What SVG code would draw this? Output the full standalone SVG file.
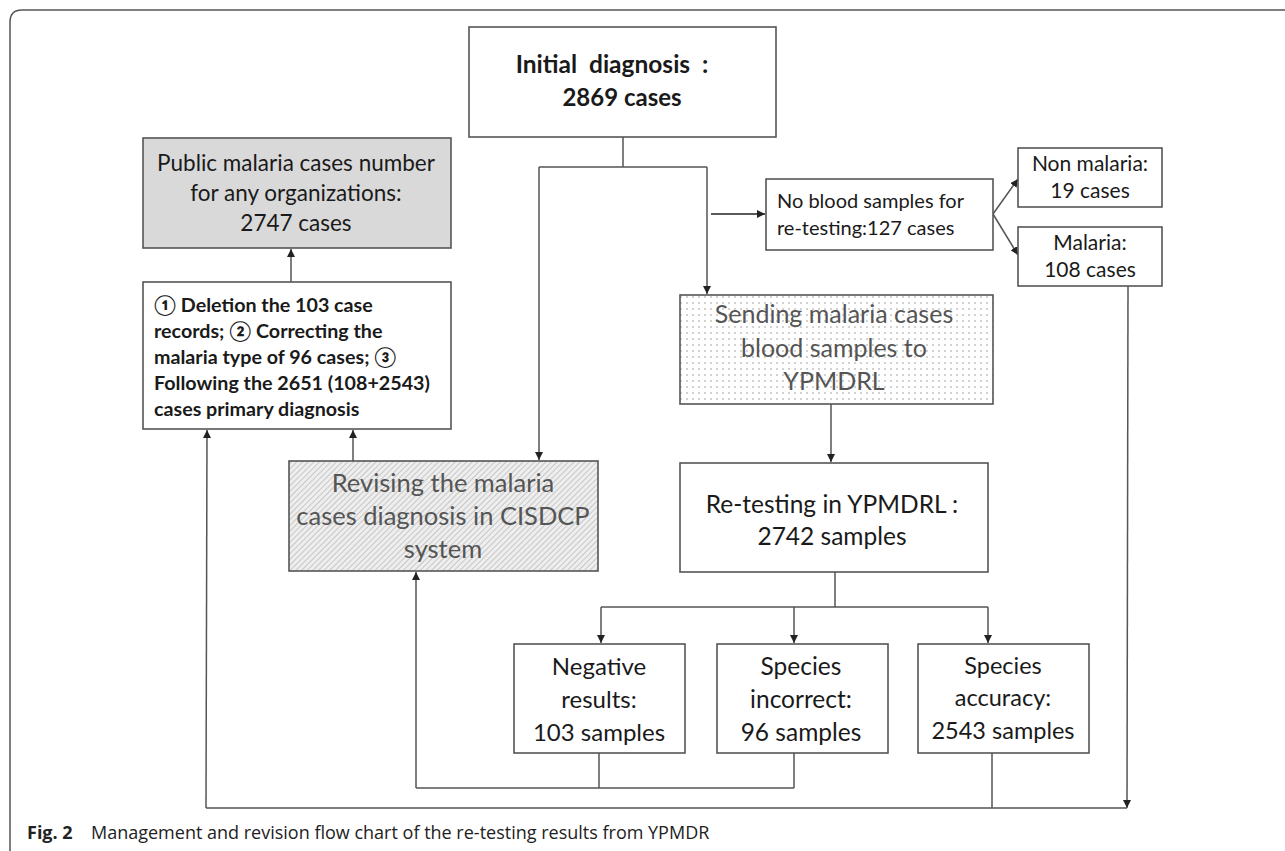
<svg xmlns="http://www.w3.org/2000/svg" width="1285" height="851" viewBox="0 0 1285 851">
<defs>
<style>
.box{stroke:#555;stroke-width:1.6;fill:#fff}
.t{font-family:Lato,"Liberation Sans",sans-serif;fill:#1a1a1a;text-anchor:middle}
.g{fill:#555}
.b{font-weight:bold}
.c{fill:none;stroke:#555;stroke-width:1.5}
</style>
<marker id="ah" viewBox="0 0 10 10" refX="10" refY="5" markerWidth="8" markerHeight="8" markerUnits="userSpaceOnUse" orient="auto"><path d="M0,0 L10,5 L0,10 z" fill="#222"/></marker>
<pattern id="dots" width="6" height="6" patternUnits="userSpaceOnUse"><rect width="6" height="6" fill="#fff"/><circle cx="3" cy="3" r="0.8" fill="#999"/></pattern>
<pattern id="hatch" width="4" height="4" patternUnits="userSpaceOnUse" patternTransform="rotate(45)"><rect width="4" height="4" fill="#eeeeee"/><line x1="0" y1="0" x2="0" y2="4" stroke="#a0a0a0" stroke-width="1"/></pattern>
</defs>
<rect width="1285" height="851" fill="#fff"/>
<path d="M10,851 L10,22 Q10,10 22,10 L1285,10" fill="none" stroke="#555" stroke-width="1.5"/>

<g id="connectors">
<path class="c" d="M623,137 L623,167 M539,167 L707,167"/>
<path class="c" d="M539,167 L539,460" marker-end="url(#ah)"/>
<path class="c" d="M707,167 L707,294" marker-end="url(#ah)"/>
<path class="c" d="M711,214 L765,214" stroke-width="2.4" style="stroke:#222" marker-end="url(#ah)"/>
<path class="c" d="M993,214 L1018,179" marker-end="url(#ah)"/>
<path class="c" d="M993,214 L1018,255" marker-end="url(#ah)"/>
<path class="c" d="M1128,286 L1127,808" marker-end="url(#ah)"/>
<path class="c" d="M831,404 L831,462" marker-end="url(#ah)"/>
<path class="c" d="M835,572 L835,607 M601,607 L988,607"/>
<path class="c" d="M601,607 L601,643" marker-end="url(#ah)"/>
<path class="c" d="M794,607 L794,643" marker-end="url(#ah)"/>
<path class="c" d="M988,607 L988,643" marker-end="url(#ah)"/>
<path class="c" d="M599,753 L599,788 M794,753 L794,788 M416,788 L794,788"/>
<path class="c" d="M416,788 L416,572" marker-end="url(#ah)"/>
<path class="c" d="M992,753 L992,808 M206,808 L1127,808"/>
<path class="c" d="M206,808 L207,430" marker-end="url(#ah)"/>
<path class="c" d="M353,461 L353,430" marker-end="url(#ah)"/>
<path class="c" d="M291,282 L291,249" marker-end="url(#ah)"/>
</g>

<g id="initial">
<rect class="box" x="469" y="27" width="307" height="110"/>
<text class="t b" x="612" y="73" font-size="24.5" xml:space="preserve">Initial  diagnosis  :</text>
<text class="t b" x="622" y="106" font-size="24">2869 cases</text>
</g>

<g id="public">
<rect class="box" x="143" y="138" width="308" height="110" style="fill:#d9d9d9"/>
<text class="t" x="296" y="171" font-size="22.5">Public malaria cases number</text>
<text class="t" x="296" y="201" font-size="22.5">for any organizations:</text>
<text class="t" x="296" y="231" font-size="22.5">2747 cases</text>
</g>

<g id="deletion">
<rect class="box" x="143" y="282" width="308" height="147"/>
<text class="t b" x="154" y="312" font-size="19.7" style="text-anchor:start">① Deletion the 103 case</text>
<text class="t b" x="154" y="338" font-size="19.7" style="text-anchor:start">records; ② Correcting the</text>
<text class="t b" x="154" y="364" font-size="19.7" style="text-anchor:start">malaria type of 96 cases; ③</text>
<text class="t b" x="154" y="390" font-size="19.7" style="text-anchor:start">Following the 2651 (108+2543)</text>
<text class="t b" x="154" y="416" font-size="19.7" style="text-anchor:start">cases primary diagnosis</text>
</g>

<g id="noblood">
<rect class="box" x="766" y="179" width="227" height="71"/>
<text class="t" x="777" y="208" font-size="20" style="text-anchor:start">No blood samples for</text>
<text class="t" x="777" y="235" font-size="20" style="text-anchor:start">re-testing:127 cases</text>
</g>

<g id="nonmalaria">
<rect class="box" x="1018" y="148" width="144" height="59"/>
<text class="t" x="1090" y="171" font-size="21">Non malaria:</text>
<text class="t" x="1090" y="198" font-size="21">19 cases</text>
</g>

<g id="malaria">
<rect class="box" x="1018" y="227" width="144" height="59"/>
<text class="t" x="1090" y="250" font-size="21">Malaria:</text>
<text class="t" x="1090" y="277" font-size="21">108 cases</text>
</g>

<g id="sending">
<rect class="box" x="680" y="295" width="313" height="109" style="fill:url(#dots)"/>
<text class="t g" x="834" y="323" font-size="25">Sending malaria cases</text>
<text class="t g" x="834" y="357" font-size="25">blood samples to</text>
<text class="t g" x="834" y="390" font-size="25">YPMDRL</text>
</g>

<g id="revising">
<rect class="box" x="289" y="461" width="309" height="110" style="fill:url(#hatch)"/>
<text class="t g" x="443" y="492" font-size="25.5">Revising the malaria</text>
<text class="t g" x="443" y="525" font-size="25.5">cases diagnosis in CISDCP</text>
<text class="t g" x="443" y="558" font-size="25.5">system</text>
</g>

<g id="retesting">
<rect class="box" x="680" y="463" width="308" height="109"/>
<text class="t" x="832" y="513" font-size="24.5">Re-testing in YPMDRL :</text>
<text class="t" x="832" y="545" font-size="24.5">2742 samples</text>
</g>

<g id="negative">
<rect class="box" x="514" y="644" width="171" height="109"/>
<text class="t" x="599" y="675" font-size="24">Negative</text>
<text class="t" x="599" y="708" font-size="24">results:</text>
<text class="t" x="599" y="741" font-size="24">103 samples</text>
</g>

<g id="incorrect">
<rect class="box" x="717" y="644" width="171" height="109"/>
<text class="t" x="801" y="675" font-size="24.5">Species</text>
<text class="t" x="801" y="708" font-size="24.5">incorrect:</text>
<text class="t" x="801" y="741" font-size="24.5">96 samples</text>
</g>

<g id="accuracy">
<rect class="box" x="918" y="644" width="171" height="109"/>
<text class="t" x="1003" y="674" font-size="23.5">Species</text>
<text class="t" x="1003" y="706" font-size="23.5">accuracy:</text>
<text class="t" x="1003" y="739" font-size="23.5">2543 samples</text>
</g>

<g id="caption">
<text x="27" y="839" font-family="'Open Sans','Liberation Sans',sans-serif" font-size="18" fill="#222"><tspan font-weight="bold">Fig. 2</tspan><tspan x="91">Management and revision flow chart of the re-testing results from YPMDR</tspan></text>
</g>
</svg>
